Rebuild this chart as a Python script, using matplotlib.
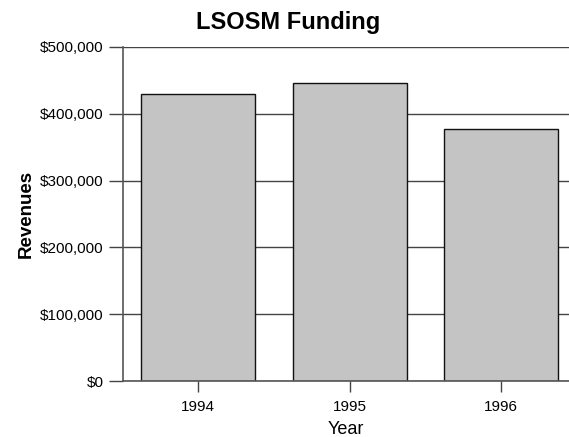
import matplotlib.pyplot as plt
from matplotlib.ticker import FuncFormatter

plt.rcParams['font.family'] = ['Liberation Sans', 'DejaVu Sans']

years = ["1994", "1995", "1996"]
revenues = [429000, 445500, 377500]
yticks = [0, 100000, 200000, 300000, 400000, 500000]

W, H = 569, 437
fig = plt.figure(figsize=(W / 100, H / 100), dpi=100)
ax = fig.add_axes([123 / W, 56 / H, 1 - 123 / W, 334 / H])

x = range(len(years))
ax.bar(x, revenues, width=0.753, color="#c4c4c4", edgecolor="#111111",
       linewidth=1.0, zorder=3)

ax.set_xlim(-0.497, 2.45)
ax.set_ylim(0, 500000)
ax.set_yticks(yticks)
ax.yaxis.set_major_formatter(FuncFormatter(lambda v, p: f"${v:,.0f}"))
ax.set_xticks(list(x))
ax.set_xticklabels(years)

ax.grid(axis="y", color="#444444", linewidth=1.0, zorder=0)
for s in ["top", "right"]:
    ax.spines[s].set_visible(False)
for s in ["left", "bottom"]:
    ax.spines[s].set_color("#555555")
    ax.spines[s].set_linewidth(1.2)
    ax.spines[s].set_zorder(4)

ax.tick_params(axis="y", length=10, width=1, color="#444444", labelsize=11, pad=4)
ax.tick_params(axis="x", length=8, width=1, color="#444444", labelsize=11, pad=6)

fig.text(288 / W, 1 - 22 / H, "LSOSM Funding", fontsize=17, fontweight="bold",
         ha="center", va="center")
ax.set_ylabel("Revenues", fontsize=13.5, fontweight="bold", labelpad=4)
ax.set_xlabel("Year", fontsize=13, labelpad=5)

fig.savefig("out.png", dpi=100)
